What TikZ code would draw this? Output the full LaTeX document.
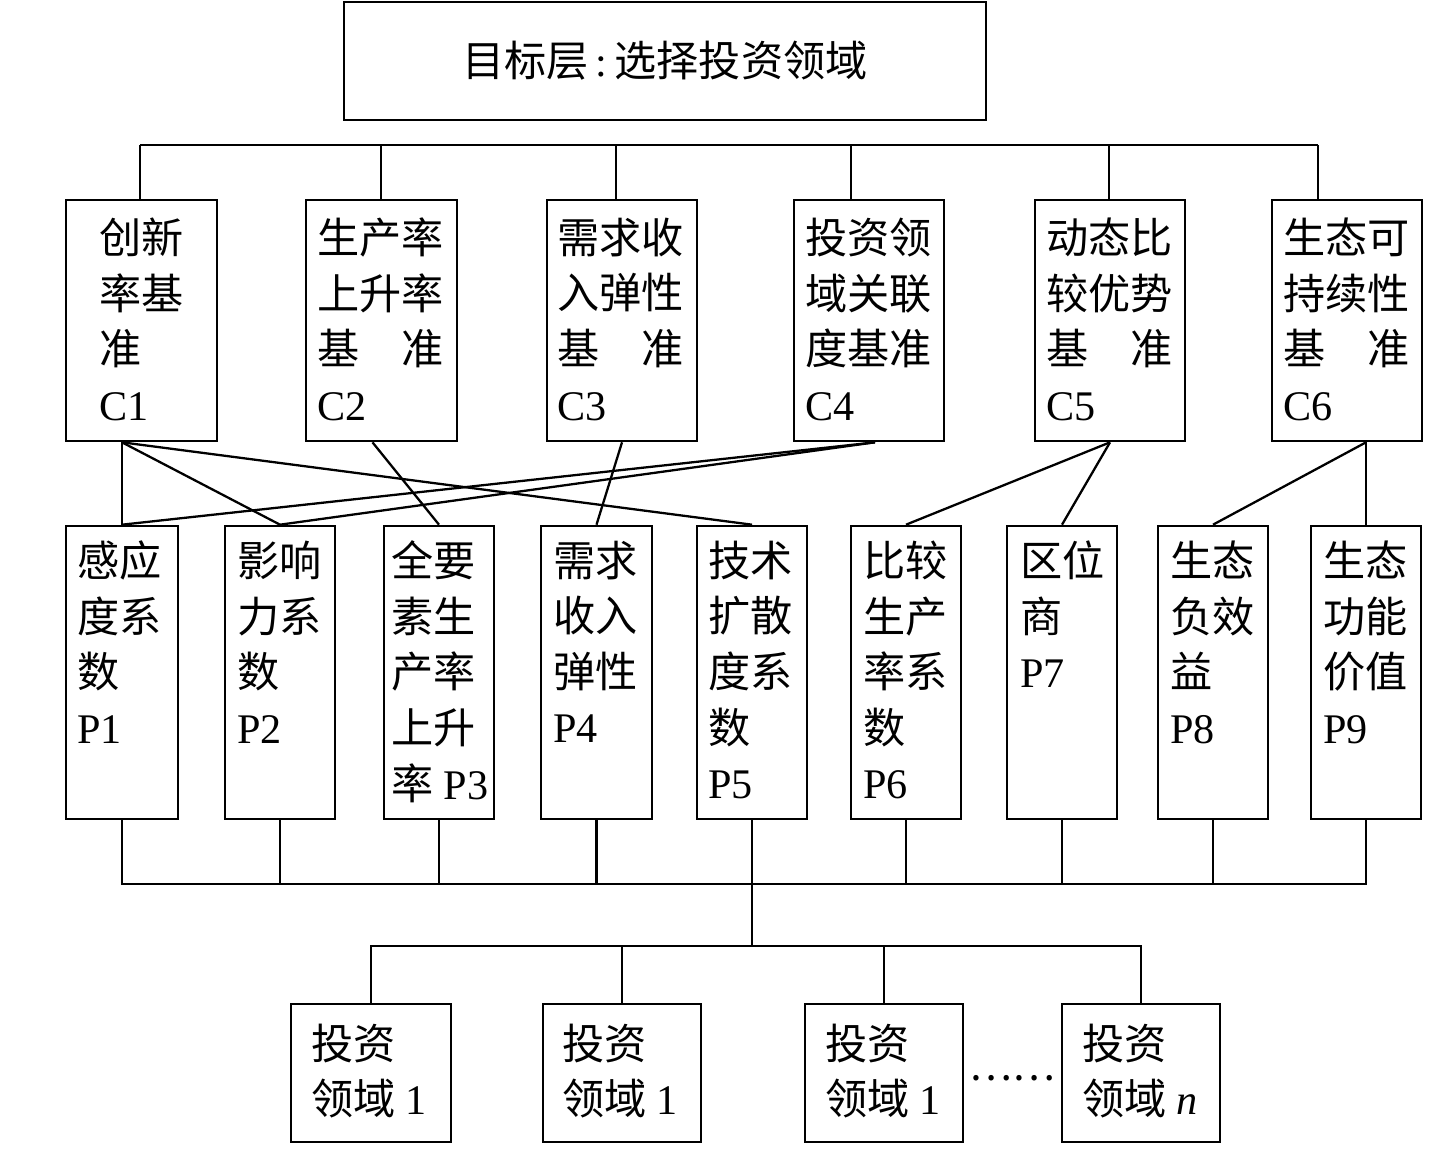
\documentclass[tikz,border=0pt]{standalone}
\usepackage{fontspec}
\setmainfont{Liberation Serif}
\newfontfamily\cjk{Noto Sans CJK SC}
\newcommand{\zw}[1]{{\cjk #1}}
\usepackage{tikz}
\usetikzlibrary{positioning,calc,fit}

\begin{document}
\begin{tikzpicture}[x=0.02cm,y=-0.02cm,
  box/.style={draw,line width=1.5pt,inner sep=0pt},
  txt/.style={anchor=north west,inner sep=0pt,align=left,font=\fontsize{24}{31.6}\selectfont},
  link/.style={line width=1.3pt}]
  \useasboundingbox (0,0) rectangle (1443,1176); % 画面范围
  % 目标层
  \node[box,fit={(344,2)(986,120)}] (goal) {};
  \node[inner sep=0pt,font=\fontsize{24}{31.6}\selectfont] (goalt) at (goal.center) {\zw{目标层}\,:\,\zw{选择投资领域}};
  % 准则层 C1--C6
  \node[box,fit={(66,200)(217,441)}] (c1) {};
  \node[box,fit={(306,200)(457,441)}] (c2) {};
  \node[box,fit={(547,200)(697,441)}] (c3) {};
  \node[box,fit={(794,200)(944,441)}] (c4) {};
  \node[box,fit={(1035,200)(1185,441)}] (c5) {};
  \node[box,fit={(1272,200)(1422,441)}] (c6) {};
  \node[txt] (c1t) at ([shift={(34,19)}]c1.north west) {\zw{创新}\\\zw{率基}\\\zw{准}\\C1};
  \node[txt] (c2t) at ([shift={(12,19)}]c2.north west) {\zw{生产率}\\\zw{上升率}\\\zw{基\hspace{1em}准}\\C2};
  \node[txt] (c3t) at ([shift={(11,19)}]c3.north west) {\zw{需求收}\\\zw{入弹性}\\\zw{基\hspace{1em}准}\\C3};
  \node[txt] (c4t) at ([shift={(12,19)}]c4.north west) {\zw{投资领}\\\zw{域关联}\\\zw{度基准}\\C4};
  \node[txt] (c5t) at ([shift={(12,19)}]c5.north west) {\zw{动态比}\\\zw{较优势}\\\zw{基\hspace{1em}准}\\C5};
  \node[txt] (c6t) at ([shift={(12,19)}]c6.north west) {\zw{生态可}\\\zw{持续性}\\\zw{基\hspace{1em}准}\\C6};
  % 指标层 P1--P9
  \node[box,fit={(66,526)(178,819)}] (p1) {};
  \node[box,fit={(225,526)(335,819)}] (p2) {};
  \node[box,fit={(384,526)(494,819)}] (p3) {};
  \node[box,fit={(541,526)(652,819)}] (p4) {};
  \node[box,fit={(697,526)(807,819)}] (p5) {};
  \node[box,fit={(851,526)(961,819)}] (p6) {};
  \node[box,fit={(1007,526)(1117,819)}] (p7) {};
  \node[box,fit={(1158,526)(1268,819)}] (p8) {};
  \node[box,fit={(1311,526)(1421,819)}] (p9) {};
  \node[txt] (p1t) at ([shift={(12,16)}]p1.north west) {\zw{感应}\\\zw{度系}\\\zw{数}\\P1};
  \node[txt] (p2t) at ([shift={(13,16)}]p2.north west) {\zw{影响}\\\zw{力系}\\\zw{数}\\P2};
  \node[txt] (p3t) at ([shift={(8,16)}]p3.north west) {\zw{全要}\\\zw{素生}\\\zw{产率}\\\zw{上升}\\\zw{率} P3};
  \node[txt] (p4t) at ([shift={(13,16)}]p4.north west) {\zw{需求}\\\zw{收入}\\\zw{弹性}\\P4};
  \node[txt] (p5t) at ([shift={(12,16)}]p5.north west) {\zw{技术}\\\zw{扩散}\\\zw{度系}\\\zw{数}\\P5};
  \node[txt] (p6t) at ([shift={(13,16)}]p6.north west) {\zw{比较}\\\zw{生产}\\\zw{率系}\\\zw{数}\\P6};
  \node[txt] (p7t) at ([shift={(14,16)}]p7.north west) {\zw{区位}\\\zw{商}\\P7};
  \node[txt] (p8t) at ([shift={(13,16)}]p8.north west) {\zw{生态}\\\zw{负效}\\\zw{益}\\P8};
  \node[txt] (p9t) at ([shift={(13,16)}]p9.north west) {\zw{生态}\\\zw{功能}\\\zw{价值}\\P9};
  % 方案层
  \node[box,fit={(291,1004)(451,1142)}] (b1) {};
  \node[box,fit={(543,1004)(701,1142)}] (b2) {};
  \node[box,fit={(805,1004)(963,1142)}] (b3) {};
  \node[box,fit={(1062,1004)(1220,1142)}] (b4) {};
  \node[txt] (b1t) at ([shift={(21,21)}]b1.north west) {\zw{投资}\\\zw{领域} 1};
  \node[txt] (b2t) at ([shift={(20,21)}]b2.north west) {\zw{投资}\\\zw{领域} 1};
  \node[txt] (b3t) at ([shift={(21,21)}]b3.north west) {\zw{投资}\\\zw{领域} 1};
  \node[txt] (b4t) at ([shift={(21,21)}]b4.north west) {\zw{投资}\\\zw{领域} \textit{n}};
  \node[inner sep=0pt,font=\fontsize{23}{31.6}\selectfont] (dots) at ($(b3.east)!0.5!(b4.west)+(0,5)$) {\zw{……}};
  % 目标层与准则层之间的连线
  \coordinate (t1) at (140,145);
  \coordinate (t2) at (381,145);
  \coordinate (t3) at (616,145);
  \coordinate (t4) at (851,145);
  \coordinate (t5) at (1109,145);
  \coordinate (t6) at (1318,145);
  \draw[link] (t1) -- (t6); % 横线
  \draw[link] (t1) -- (t1 |- c1.north);
  \draw[link] (t2) -- (t2 |- c2.north);
  \draw[link] (t3) -- (t3 |- c3.north);
  \draw[link] (t4) -- (t4 |- c4.north);
  \draw[link] (t5) -- (t5 |- c5.north);
  \draw[link] (t6) -- (t6 |- c6.north);
  % 准则层与指标层之间的斜线
  \coordinate (c1b) at (p1.north |- c1.south);
  \coordinate (c2b) at ($(c2.south)+(-9,0)$);
  \coordinate (c4b) at ($(c4.south)+(6,0)$);
  \coordinate (c6b) at (p9.north |- c6.south);
  \draw[link] (c1b) -- (p1.north);
  \draw[link] (c1b) -- (p2.north);
  \draw[link] (c1b) -- (p5.north);
  \draw[link] (c2b) -- (p3.north);
  \draw[link] (c3.south) -- (p4.north);
  \draw[link] (c4b) -- (p1.north);
  \draw[link] (c4b) -- (p2.north);
  \draw[link] (c5.south) -- (p6.north);
  \draw[link] (c5.south) -- (p7.north);
  \draw[link] (c6b) -- (p8.north);
  \draw[link] (c6b) -- (p9.north);
  % 指标层与方案层之间的连线
  \coordinate (pb) at (750,884);
  \coordinate (bb) at (750,946);
  \draw[link] (p1.south) |- (pb) -| (p9.south); % 下方横线
  \draw[link] (p2.south) -- (p2.south |- pb);
  \draw[link] (p3.south) -- (p3.south |- pb);
  \draw[link] (p4.south) -- (p4.south |- pb);
  \draw[link] (p5.south) -- (p5.south |- bb);
  \draw[link] (p6.south) -- (p6.south |- pb);
  \draw[link] (p7.south) -- (p7.south |- pb);
  \draw[link] (p8.south) -- (p8.south |- pb);
  \draw[link] (b1.north) |- (bb) -| (b4.north); % 最下层横线
  \draw[link] (b2.north) -- (b2.north |- bb);
  \draw[link] (b3.north) -- (b3.north |- bb);
\end{tikzpicture}
\end{document}
